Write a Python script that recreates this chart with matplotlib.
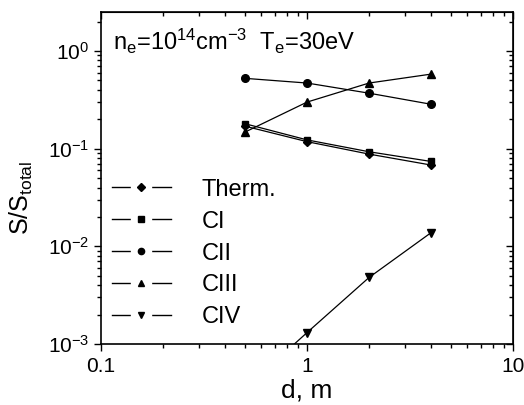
import matplotlib
matplotlib.use('Agg')
import matplotlib.pyplot as plt
import numpy as np
from matplotlib.lines import Line2D
from matplotlib.legend_handler import HandlerTuple

plt.rcParams['font.family'] = ['Liberation Sans', 'DejaVu Sans']
plt.rcParams['mathtext.default'] = 'regular'

# distance, m
d = [0.5, 1, 2, 4]

therm = [0.17, 0.118, 0.088, 0.068]
c1 = [0.18, 0.123, 0.093, 0.074]
c2 = [0.525, 0.47, 0.37, 0.285]
c3 = [0.148, 0.30, 0.47, 0.58]
c4 = [0.00035, 0.00131, 0.0048, 0.0138]

names = ['Therm.', 'CI', 'CII', 'CIII', 'CIV']
series = [therm, c1, c2, c3, c4]
markers = ['D', 's', 'o', '^', 'v']
msizes = [4.5, 5, 5.5, 5.5, 5.5]

fig = plt.figure(figsize=(5.24, 4.05), dpi=100)
ax = fig.add_axes([0.193, 0.1506, 0.786, 0.8194])

for vals, m, ms in zip(series, markers, msizes):
    ax.plot(d, vals, color='black', lw=0.9, marker=m, ms=ms)

ax.set_xscale('log')
ax.set_yscale('log')
ax.set_xlim(0.1, 10)
ax.set_ylim(1e-3, 2.5)
ax.set_xticks([0.1, 1, 10])
ax.set_xticklabels(['0.1', '1', '10'])

for s in ax.spines.values():
    s.set_linewidth(1.2)

ax.tick_params(which='both', direction='out', top=False, right=False,
               labelsize=15, width=1.0)
ax.tick_params(which='major', length=5)
ax.tick_params(which='minor', length=3)
ax.tick_params(axis='x', pad=4)

# top / right mirrored axes with inward ticks
top = ax.secondary_xaxis('top', functions=(lambda x: x, lambda x: x))
top.tick_params(which='both', direction='in', labeltop=False, width=1.0)
top.tick_params(which='major', length=5)
top.tick_params(which='minor', length=3)
right = ax.secondary_yaxis('right', functions=(lambda y: y, lambda y: y))
right.tick_params(which='both', direction='in', labelright=False, width=1.0)
right.tick_params(which='major', length=5)
right.tick_params(which='minor', length=3)

ax.set_xlabel('d, m', fontsize=19, labelpad=2)
ax.set_ylabel('S/S$_{total}$', fontsize=18)
ax.yaxis.set_label_coords(-0.16, 0.44)

ax.text(0.028, 0.885, 'n$_{e}$=10$^{14}$cm$^{-3}$  T$_{e}$=30eV',
        transform=ax.transAxes, fontsize=17)

handles = []
for m in markers:
    line = Line2D([], [], color='black', lw=1.0)
    gap = Line2D([], [], ls='none', marker='s', ms=14, mfc='white', mec='white')
    mk = Line2D([], [], ls='none', marker=m, ms=4.5, color='black')
    handles.append((line, gap, mk))

ax.legend(handles, names, loc='upper left', bbox_to_anchor=(0.0, 0.53),
          frameon=False, fontsize=17, handlelength=2.5, handletextpad=1.3,
          labelspacing=0.42, borderpad=0, borderaxespad=0.45,
          handler_map={tuple: HandlerTuple(ndivide=1, pad=0)})

fig.savefig('out.png', dpi=100)
